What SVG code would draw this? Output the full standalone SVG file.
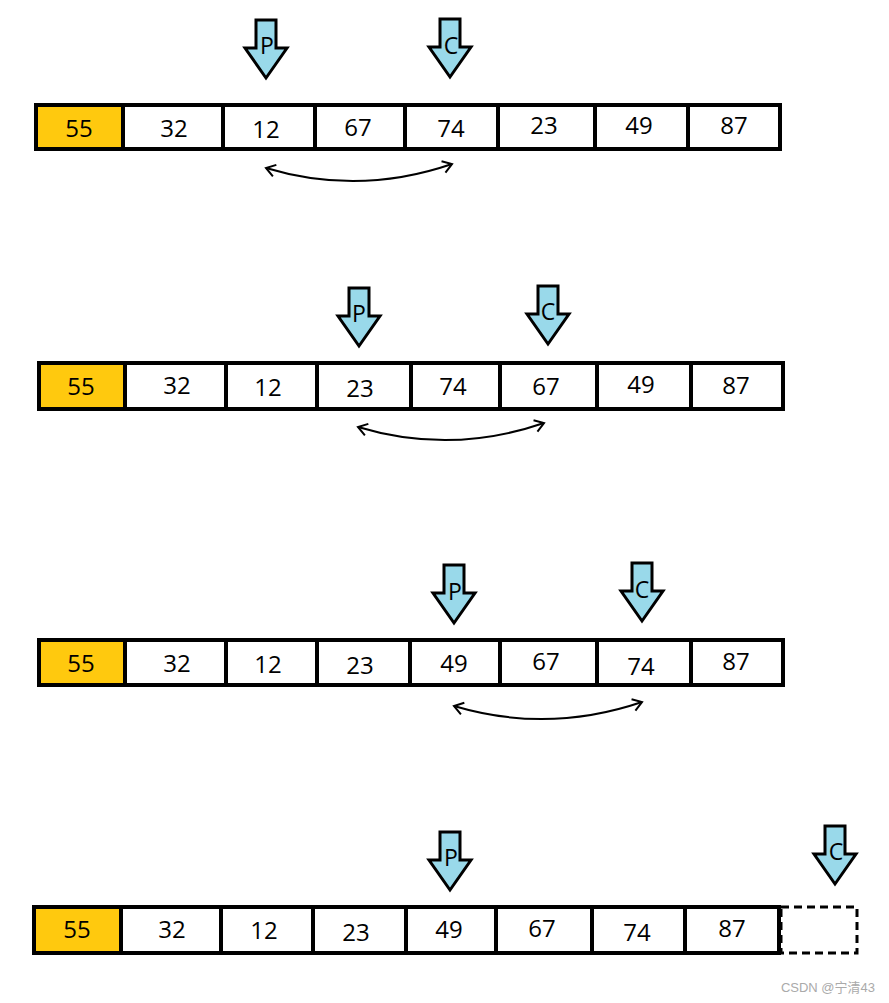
<svg xmlns="http://www.w3.org/2000/svg" width="889" height="1003" viewBox="0 0 889 1003">
<style>
.c{fill:#fff;stroke:#000;stroke-width:4}
.k{fill:#FFC90E;stroke:#000;stroke-width:4}
.d{fill:#fff;stroke:#000;stroke-width:3;stroke-dasharray:8 5}
.t{font-family:"Open Sans","Noto Sans",sans-serif;font-size:24px;fill:#000;text-anchor:middle}
.a{fill:#99D9EA;stroke:#000;stroke-width:3;stroke-linejoin:miter}
.l{font-family:"Open Sans","Noto Sans",sans-serif;font-size:23px;fill:#000;text-anchor:middle}
.s{fill:none;stroke:#000;stroke-width:2}
.w{font-family:"Liberation Sans","Noto Sans CJK SC",sans-serif;font-size:13px;fill:#aaa;text-anchor:end}
</style>
<defs>
<marker id="h" markerUnits="userSpaceOnUse" markerWidth="14" markerHeight="14" refX="10" refY="6" orient="auto-start-reverse" overflow="visible">
<path d="M1,0 L10,6 L1,12" fill="none" stroke="#000" stroke-width="2"/>
</marker>
<path id="arw" d="M-10,-58 H10 V-30 H21 L0,0 L-21,-30 H-10 Z"/>
</defs>

<!-- Row 1 -->
<g id="row1">
<g id="r1c1"><rect class="k" x="36" y="105" width="87" height="44"/><text class="t" x="79" y="137">55</text></g>
<g id="r1c2"><rect class="c" x="123" y="105" width="100" height="44"/><text class="t" x="174" y="137">32</text></g>
<g id="r1c3"><rect class="c" x="223" y="105" width="92" height="44"/><text class="t" x="266" y="138">12</text></g>
<g id="r1c4"><rect class="c" x="315" y="105" width="90" height="44"/><text class="t" x="358" y="136">67</text></g>
<g id="r1c5"><rect class="c" x="405" y="105" width="93" height="44"/><text class="t" x="451" y="137">74</text></g>
<g id="r1c6"><rect class="c" x="498" y="105" width="97" height="44"/><text class="t" x="544" y="134">23</text></g>
<g id="r1c7"><rect class="c" x="595" y="105" width="93" height="44"/><text class="t" x="639" y="134">49</text></g>
<g id="r1c8"><rect class="c" x="688" y="105" width="92" height="44"/><text class="t" x="734" y="134">87</text></g>
</g>
<g id="r1P"><use href="#arw" class="a" transform="translate(266,78)"/><text class="l" x="267" y="54">P</text></g>
<g id="r1C"><use href="#arw" class="a" transform="translate(450,77)"/><text class="l" x="451" y="54">C</text></g>

<!-- Row 2 -->
<g id="row2">
<g id="r2c1"><rect class="k" x="39" y="363" width="86" height="46"/><text class="t" x="81" y="395">55</text></g>
<g id="r2c2"><rect class="c" x="125" y="363" width="101" height="46"/><text class="t" x="177" y="394">32</text></g>
<g id="r2c3"><rect class="c" x="226" y="363" width="91" height="46"/><text class="t" x="268" y="396">12</text></g>
<g id="r2c4"><rect class="c" x="317" y="363" width="94" height="46"/><text class="t" x="360" y="397">23</text></g>
<g id="r2c5"><rect class="c" x="411" y="363" width="89" height="46"/><text class="t" x="453" y="395">74</text></g>
<g id="r2c6"><rect class="c" x="500" y="363" width="97" height="46"/><text class="t" x="546" y="395">67</text></g>
<g id="r2c7"><rect class="c" x="597" y="363" width="94" height="46"/><text class="t" x="641" y="393">49</text></g>
<g id="r2c8"><rect class="c" x="691" y="363" width="92" height="46"/><text class="t" x="736" y="394">87</text></g>
</g>
<g id="r2P"><use href="#arw" class="a" transform="translate(359,346)"/><text class="l" x="359" y="322">P</text></g>
<g id="r2C"><use href="#arw" class="a" transform="translate(548,344)"/><text class="l" x="548" y="320">C</text></g>

<!-- Row 3 -->
<g id="row3">
<g id="r3c1"><rect class="k" x="39" y="640" width="86" height="45"/><text class="t" x="81" y="672">55</text></g>
<g id="r3c2"><rect class="c" x="125" y="640" width="101" height="45"/><text class="t" x="177" y="672">32</text></g>
<g id="r3c3"><rect class="c" x="226" y="640" width="91" height="45"/><text class="t" x="268" y="673">12</text></g>
<g id="r3c4"><rect class="c" x="317" y="640" width="93" height="45"/><text class="t" x="360" y="674">23</text></g>
<g id="r3c5"><rect class="c" x="410" y="640" width="90" height="45"/><text class="t" x="454" y="672">49</text></g>
<g id="r3c6"><rect class="c" x="500" y="640" width="97" height="45"/><text class="t" x="546" y="670">67</text></g>
<g id="r3c7"><rect class="c" x="597" y="640" width="94" height="45"/><text class="t" x="641" y="675">74</text></g>
<g id="r3c8"><rect class="c" x="691" y="640" width="92" height="45"/><text class="t" x="736" y="670">87</text></g>
</g>
<g id="r3P"><use href="#arw" class="a" transform="translate(454,623)"/><text class="l" x="455" y="600">P</text></g>
<g id="r3C"><use href="#arw" class="a" transform="translate(642,621)"/><text class="l" x="642" y="598">C</text></g>

<!-- Row 4 -->
<g id="row4">
<g id="r4c1"><rect class="k" x="34" y="907" width="87" height="46"/><text class="t" x="77" y="938">55</text></g>
<g id="r4c2"><rect class="c" x="121" y="907" width="100" height="46"/><text class="t" x="172" y="938">32</text></g>
<g id="r4c3"><rect class="c" x="221" y="907" width="92" height="46"/><text class="t" x="264" y="939">12</text></g>
<g id="r4c4"><rect class="c" x="313" y="907" width="93" height="46"/><text class="t" x="356" y="941">23</text></g>
<g id="r4c5"><rect class="c" x="406" y="907" width="90" height="46"/><text class="t" x="449" y="938">49</text></g>
<g id="r4c6"><rect class="c" x="496" y="907" width="96" height="46"/><text class="t" x="542" y="937">67</text></g>
<g id="r4c7"><rect class="c" x="592" y="907" width="93" height="46"/><text class="t" x="637" y="941">74</text></g>
<g id="r4c8"><rect class="c" x="685" y="907" width="94" height="46"/><text class="t" x="732" y="937">87</text></g>
<g id="r4c9"><rect class="d" x="781" y="907" width="76" height="46"/></g>
</g>
<g id="r4P"><use href="#arw" class="a" transform="translate(450,890)"/><text class="l" x="451" y="866">P</text></g>
<g id="r4C"><use href="#arw" class="a" transform="translate(835,884)"/><text class="l" x="836" y="860">C</text></g>

<!-- connectors -->
<g id="connectors">
<path class="s" d="M266,168 Q359,196 452,164" marker-start="url(#h)" marker-end="url(#h)"/>
<path class="s" d="M358,427 Q451,455 544,423" marker-start="url(#h)" marker-end="url(#h)"/>
<path class="s" d="M454,706 Q548,734 642,702" marker-start="url(#h)" marker-end="url(#h)"/>
</g>

<text class="w" x="875" y="992">CSDN @宁清43</text>
</svg>
